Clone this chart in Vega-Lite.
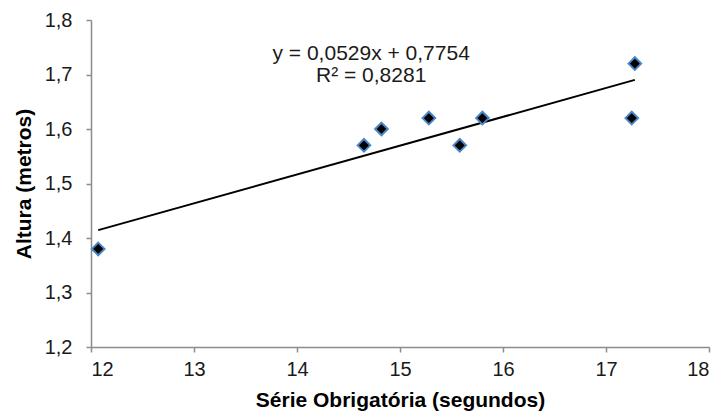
{
  "$schema": "https://vega.github.io/schema/vega-lite/v6.json",
  "width": 618,
  "height": 327,
  "autosize": {"type": "none"},
  "padding": {"left": 91, "top": 20, "right": 15, "bottom": 64},
  "background": "white",
  "config": {
    "view": {"stroke": null},
    "font": "Liberation Sans",
    "axis": {
      "grid": false,
      "domainColor": "#8c8c8c",
      "domainWidth": 1.5,
      "tickColor": "#8c8c8c",
      "tickWidth": 1.5,
      "tickSize": 5,
      "labelFont": "Liberation Sans",
      "labelFontSize": 20,
      "labelColor": "#1a1a1a",
      "titleFont": "Liberation Sans",
      "titleFontSize": 21,
      "titleFontWeight": "bold",
      "titleColor": "#000000"
    }
  },
  "data": {
    "values": [
      {"serie": 12.07, "altura": 1.38},
      {"serie": 14.65, "altura": 1.57},
      {"serie": 14.82, "altura": 1.60},
      {"serie": 15.28, "altura": 1.62},
      {"serie": 15.58, "altura": 1.57},
      {"serie": 15.80, "altura": 1.62},
      {"serie": 17.25, "altura": 1.62},
      {"serie": 17.28, "altura": 1.72}
    ]
  },
  "layer": [
    {
      "transform": [
        {"regression": "altura", "on": "serie", "method": "linear", "extent": [12.07, 17.28]}
      ],
      "mark": {"type": "line", "color": "#000000", "strokeWidth": 2},
      "encoding": {
        "x": {"field": "serie", "type": "quantitative"},
        "y": {"field": "altura", "type": "quantitative"}
      }
    },
    {
      "mark": {"type": "point", "shape": "diamond", "filled": true, "fill": "#000000", "stroke": "#4a86c8", "strokeWidth": 2, "size": 160, "opacity": 1},
      "encoding": {
        "x": {
          "field": "serie",
          "type": "quantitative",
          "scale": {"domain": [12, 18], "nice": false, "zero": false},
          "axis": {"values": [12, 13, 14, 15, 16, 17, 18], "format": "d", "labelPadding": 7, "title": "Série Obrigatória (segundos)", "titlePadding": 10}
        },
        "y": {
          "field": "altura",
          "type": "quantitative",
          "scale": {"domain": [1.2, 1.8], "nice": false, "zero": false},
          "axis": {"values": [1.2, 1.3, 1.4, 1.5, 1.6, 1.7, 1.8], "labelPadding": 14, "labelExpr": "replace(format(datum.value, '.1f'), '.', ',')", "title": "Altura (metros)", "titlePadding": 10}
        }
      }
    },
    {
      "data": {"values": [{"texto": "y = 0,0529x + 0,7754"}]},
      "mark": {"type": "text", "fontSize": 21, "fontWeight": "normal", "font": "Liberation Sans", "color": "#1a1a1a", "baseline": "middle", "align": "center"},
      "encoding": {
        "x": {"datum": 14.72, "type": "quantitative"},
        "y": {"datum": 1.7376, "type": "quantitative"},
        "text": {"field": "texto"}
      }
    },
    {
      "data": {"values": [{"texto": "R² = 0,8281"}]},
      "mark": {"type": "text", "fontSize": 21, "fontWeight": "normal", "font": "Liberation Sans", "color": "#1a1a1a", "baseline": "middle", "align": "center"},
      "encoding": {
        "x": {"datum": 14.72, "type": "quantitative"},
        "y": {"datum": 1.697, "type": "quantitative"},
        "text": {"field": "texto"}
      }
    }
  ]
}
